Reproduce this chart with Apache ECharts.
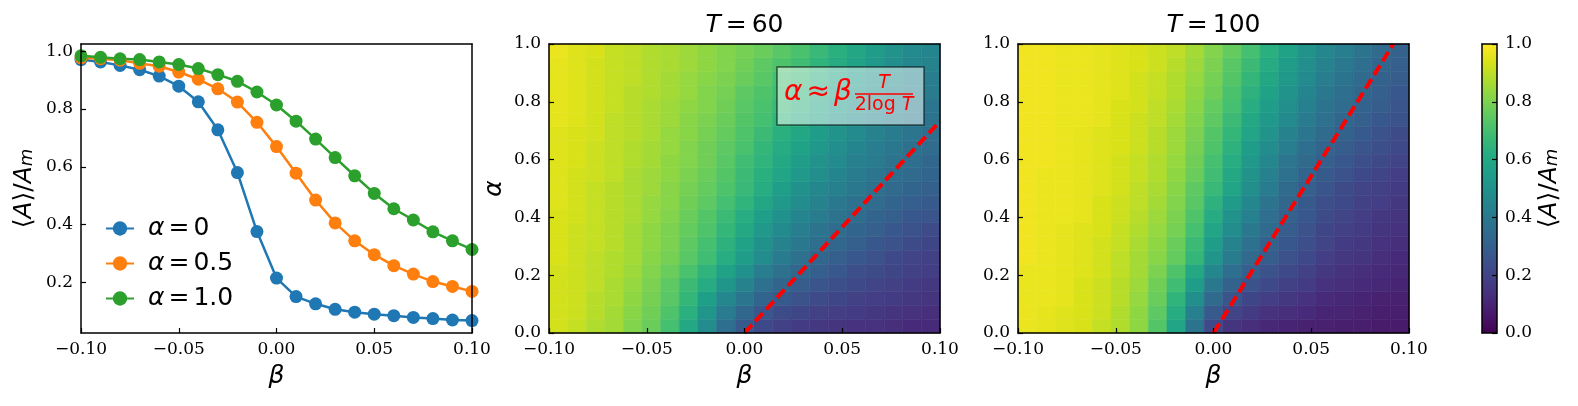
<!DOCTYPE html>
<html>
<head>
<meta charset="utf-8">
<script src="https://cdn.jsdelivr.net/npm/echarts@6/dist/echarts.min.js"></script>
<style>
  html, body { margin: 0; padding: 0; background: #fff; }
  #chart { width: 1578px; height: 406px; }
</style>
</head>
<body>
<div id="chart"></div>
<script>
// beta samples: x of the line plot, columns of both maps
const beta = [-0.10, -0.09, -0.08, -0.07, -0.06, -0.05, -0.04, -0.03, -0.02, -0.01, 0.00,
  0.01, 0.02, 0.03, 0.04, 0.05, 0.06, 0.07, 0.08, 0.09, 0.10]

// <A>/A_m against beta, one curve per alpha
const curveAlpha0 = [0.971, 0.963, 0.951, 0.936, 0.914, 0.879, 0.825, 0.728, 0.580, 0.376, 0.215,
  0.151, 0.126, 0.107, 0.097, 0.090, 0.085, 0.079, 0.075, 0.070, 0.068]
const curveAlpha05 = [0.977, 0.974, 0.969, 0.958, 0.948, 0.928, 0.903, 0.870, 0.824, 0.754, 0.670,
  0.578, 0.485, 0.406, 0.344, 0.296, 0.258, 0.229, 0.203, 0.186, 0.169]
const curveAlpha1 = [0.984, 0.979, 0.974, 0.971, 0.963, 0.954, 0.940, 0.919, 0.896, 0.859, 0.814,
  0.758, 0.696, 0.632, 0.569, 0.508, 0.455, 0.416, 0.375, 0.344, 0.314]

// maps: one array per beta column, rows go alpha = 0 -> 1
const mapT60 = [
  [.93, .93, .93, .93, .93, .94, .94, .94, .94, .95, .95, .95, .95, .95, .95, .96, .96, .96, .96, .96, .97],
  [.91, .92, .92, .92, .92, .92, .92, .92, .93, .93, .93, .93, .94, .94, .94, .95, .95, .95, .95, .95, .95],
  [.88, .89, .89, .90, .90, .90, .91, .91, .91, .91, .91, .92, .92, .92, .93, .93, .93, .93, .93, .93, .94],
  [.86, .86, .87, .87, .88, .88, .89, .89, .89, .89, .89, .90, .90, .90, .90, .90, .91, .91, .91, .91, .91],
  [.81, .82, .83, .84, .85, .86, .86, .86, .87, .87, .87, .87, .88, .88, .89, .89, .89, .89, .90, .90, .90],
  [.77, .78, .79, .80, .81, .82, .83, .83, .84, .84, .85, .85, .86, .86, .87, .87, .87, .88, .88, .88, .88],
  [.70, .72, .74, .75, .77, .79, .80, .80, .81, .82, .82, .83, .83, .84, .84, .85, .85, .86, .86, .87, .87],
  [.60, .63, .66, .68, .71, .74, .75, .76, .77, .78, .79, .80, .81, .81, .82, .82, .83, .84, .84, .85, .85],
  [.48, .52, .56, .61, .65, .69, .70, .72, .73, .75, .76, .77, .78, .78, .79, .80, .81, .81, .82, .83, .83],
  [.36, .41, .46, .52, .57, .62, .64, .66, .68, .70, .72, .73, .74, .75, .76, .77, .78, .79, .80, .81, .81],
  [.28, .33, .39, .44, .50, .55, .57, .60, .62, .65, .67, .68, .69, .71, .72, .73, .74, .75, .77, .78, .79],
  [.22, .27, .32, .37, .42, .48, .50, .53, .56, .59, .62, .63, .65, .66, .68, .70, .71, .72, .74, .75, .77],
  [.19, .23, .28, .32, .37, .41, .44, .47, .50, .53, .56, .58, .60, .61, .63, .65, .67, .69, .70, .72, .74],
  [.17, .21, .25, .29, .33, .37, .40, .42, .45, .48, .50, .53, .55, .57, .59, .61, .63, .65, .67, .69, .71],
  [.16, .19, .23, .26, .30, .33, .36, .38, .41, .44, .46, .49, .51, .53, .55, .57, .59, .61, .63, .65, .67],
  [.15, .18, .21, .24, .27, .30, .33, .35, .38, .40, .43, .45, .47, .49, .51, .53, .55, .57, .59, .61, .63],
  [.14, .17, .19, .22, .24, .27, .30, .32, .35, .37, .40, .41, .43, .45, .47, .49, .51, .53, .55, .57, .59],
  [.14, .16, .18, .20, .23, .25, .27, .30, .32, .35, .37, .39, .41, .42, .44, .46, .48, .50, .51, .53, .55],
  [.13, .15, .17, .19, .21, .22, .25, .27, .30, .32, .34, .36, .38, .40, .41, .43, .45, .46, .48, .49, .51],
  [.12, .14, .16, .17, .19, .20, .23, .25, .27, .30, .32, .34, .36, .37, .39, .41, .42, .44, .45, .46, .47],
  [.12, .13, .15, .16, .18, .19, .21, .23, .26, .28, .30, .32, .33, .35, .36, .38, .39, .41, .42, .44, .45]
]
const mapT100 = [
  [.97, .97, .97, .97, .97, .98, .98, .98, .98, .98, .98, .98, .98, .98, .98, .98, .98, .98, .98, .98, .98],
  [.96, .96, .97, .97, .97, .97, .97, .97, .97, .97, .97, .97, .98, .98, .98, .98, .98, .98, .98, .98, .98],
  [.95, .95, .96, .96, .96, .96, .96, .96, .97, .97, .97, .97, .97, .97, .97, .97, .97, .97, .97, .97, .97],
  [.94, .94, .94, .94, .95, .95, .95, .95, .96, .96, .96, .96, .96, .96, .96, .97, .97, .97, .97, .97, .97],
  [.91, .92, .92, .92, .93, .93, .93, .94, .94, .94, .95, .95, .95, .95, .95, .96, .96, .96, .96, .96, .96],
  [.88, .88, .89, .89, .90, .90, .91, .91, .92, .92, .93, .93, .93, .94, .94, .94, .94, .95, .95, .95, .95],
  [.83, .83, .84, .85, .86, .86, .87, .88, .89, .90, .90, .91, .91, .92, .92, .92, .93, .93, .93, .94, .94],
  [.73, .75, .77, .78, .80, .82, .83, .84, .85, .86, .87, .88, .88, .89, .89, .90, .90, .91, .91, .92, .92],
  [.58, .62, .65, .69, .72, .76, .77, .79, .80, .81, .82, .83, .84, .85, .85, .86, .87, .88, .88, .89, .90],
  [.38, .43, .49, .55, .60, .66, .68, .70, .72, .74, .75, .77, .78, .79, .80, .81, .82, .83, .84, .85, .86],
  [.22, .28, .34, .40, .46, .52, .55, .58, .61, .64, .67, .69, .70, .72, .73, .75, .76, .78, .79, .80, .81],
  [.15, .20, .26, .31, .36, .41, .44, .48, .51, .54, .58, .60, .62, .64, .66, .68, .70, .71, .73, .74, .76],
  [.13, .17, .21, .25, .30, .34, .37, .40, .43, .46, .49, .51, .53, .55, .58, .60, .62, .64, .66, .68, .70],
  [.11, .14, .18, .22, .25, .29, .31, .34, .36, .38, .41, .43, .46, .48, .51, .53, .55, .57, .59, .61, .63],
  [.10, .13, .16, .19, .22, .25, .27, .29, .31, .33, .34, .37, .39, .42, .44, .47, .49, .51, .53, .55, .57],
  [.09, .12, .14, .17, .19, .22, .24, .25, .27, .28, .30, .32, .34, .36, .39, .41, .43, .45, .47, .49, .51],
  [.09, .10, .12, .14, .16, .18, .20, .21, .23, .24, .26, .28, .30, .32, .34, .37, .38, .40, .42, .44, .46],
  [.08, .10, .11, .13, .14, .16, .17, .19, .20, .22, .23, .25, .27, .29, .31, .33, .35, .36, .38, .40, .42],
  [.08, .09, .10, .12, .13, .15, .16, .17, .18, .19, .20, .22, .24, .26, .28, .30, .31, .33, .34, .36, .38],
  [.07, .08, .09, .11, .12, .13, .14, .15, .16, .18, .19, .20, .22, .24, .25, .27, .29, .30, .31, .33, .34],
  [.07, .08, .09, .10, .11, .12, .13, .14, .15, .16, .17, .18, .20, .22, .23, .25, .26, .27, .29, .30, .31]
]

// dashed guide alpha = beta * T / (2 log T), end points
const guideT60 = [[0, 0], [0.1, 0.733]]
const guideT100 = [[0, 0], [0.092, 1]]

const yTicksCurve = [0.2, 0.4, 0.6, 0.8, 1.0]

const viridis = ['#440154', '#48186a', '#472d7b', '#424086', '#3b528b', '#33638d', '#2c728e', '#26828e',
  '#21918c', '#1fa088', '#28ae80', '#3fbc73', '#5ec962', '#84d44b', '#addc30', '#d8e219', '#fde725']

const sans = 'DejaVu Sans'
const serif = 'DejaVu Serif'
const bMin = -0.1
const bMax = 0.1

const fmtX = v => (Math.abs(v) < 1e-9 ? 0 : v).toFixed(2).replace('-', '\u2212')
const fmtY = v => v.toFixed(1)

function cells (cols) {
  const w = (bMax - bMin) / cols.length
  const out = []
  cols.forEach((col, i) => {
    const h = 1 / col.length
    col.forEach((v, j) => out.push([bMin + (i + 0.5) * w, (j + 0.5) * h, v]))
  })
  return out
}

function drawCell (params, api) {
  const w = (bMax - bMin) / beta.length / 2
  const h = 1 / beta.length / 2
  const x = api.value(0)
  const y = api.value(1)
  const p0 = api.coord([x - w, y - h])
  const p1 = api.coord([x + w, y + h])
  const c = api.visual('color')
  return {
    type: 'rect',
    shape: { x: p0[0], y: p1[1], width: p1[0] - p0[0], height: p0[1] - p1[1] },
    style: { fill: c, stroke: c, lineWidth: 0.6 }
  }
}

function drawBar (params, api) {
  const p0 = api.coord([0, 0])
  const p1 = api.coord([1, 1])
  return {
    type: 'rect',
    shape: { x: p0[0], y: p1[1], width: p1[0] - p0[0], height: p0[1] - p1[1] },
    style: {
      fill: new echarts.graphic.LinearGradient(0, 1, 0, 0,
        viridis.map((c, i) => ({ offset: i / (viridis.length - 1), color: c })))
    }
  }
}

const line = { show: true, onZero: false, lineStyle: { color: '#000', width: 1.5 } }
const tick = { show: true, inside: true, length: 5, lineStyle: { color: '#000', width: 1.2 } }
const tickText = { fontFamily: serif, fontSize: 17, color: '#000', margin: 8 }
const betaName = {
  name: 'β', nameLocation: 'middle', nameGap: 31,
  nameTextStyle: { fontFamily: sans, fontStyle: 'italic', fontSize: 25, color: '#000' }
}
const ratioText = '⟨{i|A}⟩/{i|A}{s|m}'
const ratioRich = {
  i: { fontFamily: sans, fontStyle: 'italic', fontSize: 25, color: '#000', fill: '#000' },
  s: { fontFamily: sans, fontStyle: 'italic', fontSize: 18, color: '#000', fill: '#000', padding: [0, 0, -6, 0] }
}

function xMain (grid) {
  return Object.assign({
    type: 'value', gridIndex: grid, min: bMin, max: bMax, interval: 0.05, position: 'bottom', z: 10,
    axisLine: line, axisTick: tick, splitLine: { show: false },
    axisLabel: Object.assign({ formatter: fmtX }, tickText)
  }, betaName)
}
function frame (grid, pos, min, max) {
  return {
    type: 'value', gridIndex: grid, min: min, max: max, position: pos, z: 10,
    axisLine: line, axisTick: { show: false }, axisLabel: { show: false }, splitLine: { show: false }
  }
}

const grids = [
  { left: 81, top: 44, width: 391, height: 289 },
  { left: 549, top: 44, width: 391, height: 289 },
  { left: 1018, top: 44, width: 391, height: 289 },
  { left: 1482, top: 44, width: 15, height: 289 }
]

const curveStyle = (color) => ({
  type: 'line', xAxisIndex: 0, yAxisIndex: 0, symbol: 'circle', symbolSize: 13,
  itemStyle: { color: color }, lineStyle: { color: color, width: 2.5 }, clip: true
})
const pairs = vals => beta.map((b, i) => [b, vals[i]])

const guideStyle = {
  type: 'line', symbol: 'none', silent: true, z: 5,
  lineStyle: { color: '#ff0000', width: 4, type: [11, 5] }
}

const redText = { fontFamily: sans, fill: '#ff0000' }

const chart = echarts.init(document.getElementById('chart'))
chart.setOption({
  animation: false,
  backgroundColor: '#fff',
  grid: grids,
  xAxis: [
    xMain(0), xMain(1), xMain(2),
    { type: 'value', gridIndex: 3, min: 0, max: 1, position: 'bottom', z: 10, axisLine: line,
      axisTick: { show: false }, axisLabel: { show: false }, splitLine: { show: false } },
    frame(0, 'top', bMin, bMax), frame(1, 'top', bMin, bMax), frame(2, 'top', bMin, bMax), frame(3, 'top', 0, 1)
  ],
  yAxis: [
    {
      type: 'value', gridIndex: 0, min: 0.025, max: 1.025, position: 'left', z: 10,
      axisLine: line, splitLine: { show: false },
      axisTick: Object.assign({ customValues: yTicksCurve }, tick),
      axisLabel: Object.assign({ customValues: yTicksCurve, formatter: fmtY }, tickText),
      name: ratioText, nameLocation: 'middle', nameGap: 44,
      nameTextStyle: { fontFamily: sans, fontSize: 25, color: '#000', verticalAlign: 'bottom', rich: ratioRich }
    },
    {
      type: 'value', gridIndex: 1, min: 0, max: 1, interval: 0.2, position: 'left', z: 10,
      axisLine: line, axisTick: tick, splitLine: { show: false },
      axisLabel: Object.assign({ formatter: fmtY }, tickText),
      name: 'α', nameLocation: 'middle', nameGap: 42,
      nameTextStyle: { fontFamily: sans, fontStyle: 'italic', fontSize: 25, color: '#000' }
    },
    {
      type: 'value', gridIndex: 2, min: 0, max: 1, interval: 0.2, position: 'left', z: 10,
      axisLine: line, axisTick: tick, splitLine: { show: false },
      axisLabel: Object.assign({ formatter: fmtY }, tickText)
    },
    {
      type: 'value', gridIndex: 3, min: 0, max: 1, interval: 0.2, position: 'right', z: 10,
      axisLine: line, axisTick: tick, splitLine: { show: false },
      axisLabel: Object.assign({ formatter: fmtY }, tickText)
    },
    frame(0, 'right', 0.025, 1.025), frame(1, 'right', 0, 1), frame(2, 'right', 0, 1), frame(3, 'left', 0, 1)
  ],
  visualMap: {
    type: 'continuous', show: false, min: 0, max: 1, dimension: 2, seriesIndex: [3, 5],
    inRange: { color: viridis }
  },
  legend: {
    orient: 'vertical', left: 100, top: 208,
    itemWidth: 28, itemHeight: 18, itemGap: 4,
    data: ['α = 0', 'α = 0.5', 'α = 1.0'],
    formatter: n => '{g| }{i|α}{r|=}' + n.split('= ')[1],
    textStyle: {
      fontFamily: sans, fontSize: 25, color: '#000', lineHeight: 31,
      rich: {
        i: { fontFamily: sans, fontStyle: 'italic', fontSize: 25, color: '#000' },
        r: { fontFamily: sans, fontSize: 25, color: '#000', padding: [0, 4, 0, 4] },
        g: { width: 9 }
      }
    }
  },
  series: [
    Object.assign({ name: 'α = 0', data: pairs(curveAlpha0) }, curveStyle('#1f77b4')),
    Object.assign({ name: 'α = 0.5', data: pairs(curveAlpha05) }, curveStyle('#ff7f0e')),
    Object.assign({ name: 'α = 1.0', data: pairs(curveAlpha1) }, curveStyle('#2ca02c')),
    {
      type: 'custom', xAxisIndex: 1, yAxisIndex: 1, renderItem: drawCell, silent: true,
      encode: { x: 0, y: 1 }, data: cells(mapT60)
    },
    Object.assign({ xAxisIndex: 1, yAxisIndex: 1, data: guideT60 }, guideStyle),
    {
      type: 'custom', xAxisIndex: 2, yAxisIndex: 2, renderItem: drawCell, silent: true,
      encode: { x: 0, y: 1 }, data: cells(mapT100)
    },
    Object.assign({ xAxisIndex: 2, yAxisIndex: 2, data: guideT100 }, guideStyle),
    {
      type: 'custom', xAxisIndex: 3, yAxisIndex: 3, renderItem: drawBar, silent: true,
      encode: { x: 0, y: 1 }, data: [[0.5, 0.5]]
    }
  ],
  graphic: [
    {
      type: 'text', x: 744.5, y: 25, z: 20,
      style: {
        text: '{i|T}{r|=}60', align: 'center', verticalAlign: 'middle',
        fontFamily: sans, fontSize: 25, fill: '#000',
        rich: {
          i: { fontFamily: sans, fontStyle: 'italic', fontSize: 25, fill: '#000' },
          r: { fontFamily: sans, fontSize: 25, fill: '#000', padding: [0, 5, 0, 5] }
        }
      }
    },
    {
      type: 'text', x: 1213.5, y: 25, z: 20,
      style: {
        text: '{i|T}{r|=}100', align: 'center', verticalAlign: 'middle',
        fontFamily: sans, fontSize: 25, fill: '#000',
        rich: {
          i: { fontFamily: sans, fontStyle: 'italic', fontSize: 25, fill: '#000' },
          r: { fontFamily: sans, fontSize: 25, fill: '#000', padding: [0, 5, 0, 5] }
        }
      }
    },
    {
      // colorbar label
      type: 'text', x: 1549, y: 188.5, rotation: Math.PI / 2, z: 20,
      style: {
        text: ratioText, align: 'center', verticalAlign: 'middle',
        fontFamily: sans, fontSize: 25, fill: '#000', rich: ratioRich
      }
    },
    {
      type: 'rect', z: 20,
      shape: { x: 777, y: 67, width: 147, height: 58 },
      style: { fill: 'rgba(255,255,255,0.5)', stroke: 'rgba(0,0,0,0.6)', lineWidth: 1.5 }
    },
    {
      type: 'text', x: 784, y: 93, z: 21,
      style: Object.assign({
        text: '{i|α}{r|≈}{i|β}', verticalAlign: 'middle', fontSize: 28,
        rich: {
          i: { fontFamily: sans, fontStyle: 'italic', fontSize: 28, fill: '#ff0000' },
          r: { fontFamily: sans, fontSize: 28, fill: '#ff0000', padding: [0, 4, 0, 4] }
        }
      }, redText)
    },
    {
      type: 'text', x: 884, y: 83, z: 21,
      style: Object.assign({ text: 'T', align: 'center', verticalAlign: 'middle', fontSize: 19, fontStyle: 'italic' }, redText)
    },
    {
      type: 'line', z: 21,
      shape: { x1: 855, y1: 94, x2: 913, y2: 94 },
      style: { stroke: '#ff0000', lineWidth: 1.5 }
    },
    {
      type: 'text', x: 884, y: 105, z: 21,
      style: Object.assign({
        text: '2log {i|T}', align: 'center', verticalAlign: 'middle', fontSize: 19,
        rich: { i: { fontFamily: sans, fontStyle: 'italic', fontSize: 19, fill: '#ff0000' } }
      }, redText)
    }
  ]
})
</script>
</body>
</html>
